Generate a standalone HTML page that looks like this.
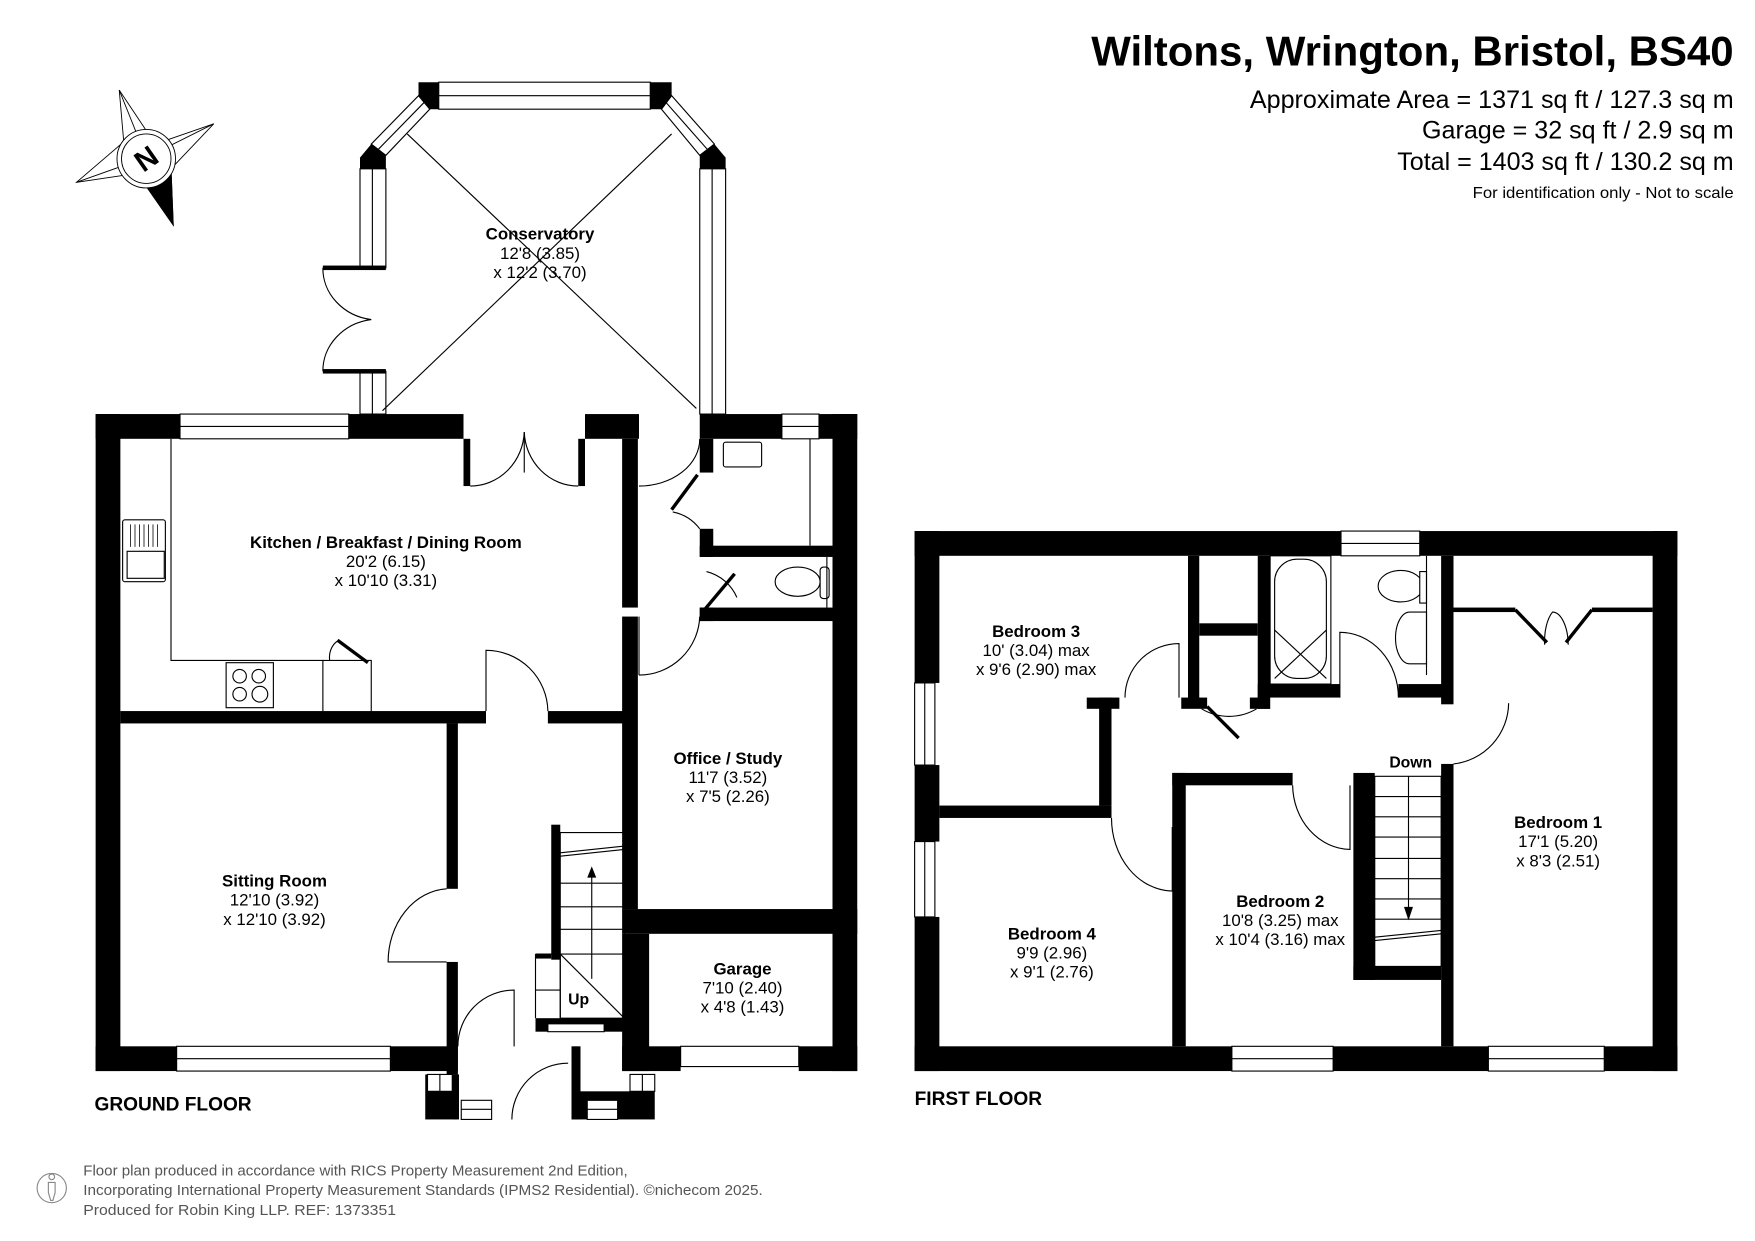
<!DOCTYPE html>
<html><head><meta charset="utf-8"><style>
html,body{margin:0;padding:0;background:#fff;}
svg{display:block}
text{font-family:"Liberation Sans",Arial,sans-serif;fill:#000}
.b{font-weight:bold}
</style></head><body>
<svg width="1755" height="1241" viewBox="0 0 1560 1103" xmlns="http://www.w3.org/2000/svg">
<rect width="1560" height="1103" fill="#fff"/>

<!-- Title -->
<text x="1541" y="58" font-size="37" class="b" text-anchor="end" textLength="571" lengthAdjust="spacingAndGlyphs">Wiltons, Wrington, Bristol, BS40</text>
<text x="1541" y="96" font-size="22" text-anchor="end" textLength="430" lengthAdjust="spacingAndGlyphs">Approximate Area = 1371 sq ft / 127.3 sq m</text>
<text x="1541" y="123" font-size="22" text-anchor="end" textLength="277" lengthAdjust="spacingAndGlyphs">Garage = 32 sq ft / 2.9 sq m</text>
<text x="1541" y="151" font-size="22" text-anchor="end" textLength="299" lengthAdjust="spacingAndGlyphs">Total = 1403 sq ft / 130.2 sq m</text>
<text x="1541" y="176" font-size="14" text-anchor="end" textLength="232" lengthAdjust="spacingAndGlyphs">For identification only - Not to scale</text>

<!-- Compass -->
<g stroke="#000" stroke-width="0.8" fill="#fff">
<polygon points="106,80 138,128 190,110 152,150 154,200 122,154 68,162 110,126"/>
<line x1="106" y1="80" x2="130" y2="140"/><line x1="190" y1="110" x2="130" y2="140"/><line x1="68" y1="162" x2="130" y2="140"/>
<polygon points="130,140 152,150 154,200 122,154" fill="#000"/>
<ellipse cx="130" cy="141" rx="26" ry="26" /><ellipse cx="130" cy="141" rx="22" ry="22"/>
</g>
<text x="130" y="150" font-size="26" class="b" text-anchor="middle" transform="rotate(-35 130 141)">N</text>

<!-- ===== CONSERVATORY ===== -->
<g fill="#000">
<polygon points="372,73 390,73 390,97 382,97 372,85"/>
<polygon points="578,73 597,73 597,85 588,97 578,97"/>
<polygon points="330,128 320,140 320,150 343,150 343,138"/>
<polygon points="635,128 645,140 645,150 622,150 622,138"/>
</g>
<g stroke="#000" stroke-width="1" fill="#fff">
<rect x="390" y="73" width="188" height="24"/><line x1="390" y1="85" x2="578" y2="85"/>
<polygon points="372,85 382,97 343,138 330,128"/><line x1="377" y1="91" x2="336" y2="133"/>
<polygon points="597,85 588,97 622,138 635,128"/><line x1="592" y1="91" x2="629" y2="133"/>
<rect x="320" y="150" width="23" height="88"/><line x1="331" y1="150" x2="331" y2="238"/>
<rect x="320" y="330" width="23" height="38"/><line x1="331" y1="330" x2="331" y2="368"/>
<rect x="622" y="150" width="23" height="218"/><line x1="633" y1="150" x2="633" y2="368"/>
<path d="M287,238 A50,46 0 0 0 330,284 A50,46 0 0 0 287,330" fill="none"/>
<line x1="362" y1="119" x2="619" y2="363"/><line x1="597" y1="119" x2="340" y2="365"/>
</g>
<rect x="287" y="236" width="56" height="4" fill="#000"/>
<rect x="287" y="328" width="56" height="4" fill="#000"/>
<text x="480" y="213" font-size="15" class="b" text-anchor="middle">Conservatory</text>
<text x="480" y="230" font-size="15" text-anchor="middle">12'8 (3.85)</text>
<text x="480" y="247" font-size="15" text-anchor="middle">x 12'2 (3.70)</text>

<!-- ===== GROUND FLOOR ===== -->
<g fill="#000">
<rect x="85" y="368" width="22" height="584"/>
<rect x="85" y="368" width="75" height="22"/>
<rect x="310" y="368" width="102" height="22"/>
<rect x="412" y="390" width="6" height="42"/>
<rect x="514" y="390" width="6" height="42"/>
<rect x="520" y="368" width="48" height="22"/>
<rect x="622" y="368" width="73" height="22"/>
<rect x="728" y="368" width="34" height="22"/>
<rect x="740" y="368" width="22" height="584"/>
<rect x="553" y="390" width="14" height="150"/>
<rect x="553" y="548" width="14" height="260"/>
<rect x="622" y="390" width="12" height="30"/>
<rect x="622" y="470" width="12" height="25"/>
<rect x="622" y="485" width="118" height="10"/>
<rect x="622" y="540" width="12" height="12"/>
<rect x="622" y="540" width="118" height="12"/>
<rect x="107" y="632" width="325" height="11"/>
<rect x="487" y="632" width="68" height="11"/>
<rect x="397" y="643" width="10" height="147"/>
<rect x="397" y="855" width="10" height="100"/>
<rect x="85" y="930" width="72" height="22"/>
<rect x="347" y="930" width="60" height="22"/>
<rect x="553" y="808" width="209" height="22"/>
<rect x="553" y="830" width="24" height="122"/>
<rect x="553" y="930" width="52" height="22"/>
<rect x="710" y="930" width="52" height="22"/>
<rect x="476" y="905" width="79" height="12"/>
<rect x="490" y="733" width="8" height="120"/>
<rect x="476" y="848" width="14" height="4"/>
<rect x="378" y="955" width="28" height="40"/>
<rect x="403" y="955" width="5" height="40"/>
<rect x="508" y="930" width="8" height="65"/>
<rect x="508" y="970" width="74" height="25"/>
<rect x="560" y="955" width="22" height="15"/>
</g>
<g stroke="#000" stroke-width="1" fill="#fff">
<rect x="160" y="368" width="150" height="22"/><line x1="160" y1="379" x2="310" y2="379"/>
<rect x="695" y="368" width="33" height="22"/><line x1="695" y1="379" x2="728" y2="379"/>
<rect x="157" y="930" width="190" height="22"/><line x1="157" y1="941" x2="347" y2="941"/>
<rect x="605" y="930" width="105" height="18"/>
<rect x="410" y="978" width="27" height="17"/><line x1="410" y1="986" x2="437" y2="986"/>
<rect x="522" y="978" width="27" height="17"/><line x1="522" y1="986" x2="549" y2="986"/>
<rect x="380" y="955" width="22" height="15"/><line x1="391" y1="955" x2="391" y2="970"/>
<rect x="560" y="955" width="22" height="15"/><line x1="571" y1="955" x2="571" y2="970"/>
<rect x="487" y="910" width="50" height="7"/>
<path d="M418,432 A48,50 0 0 0 466,384 M514,432 A48,50 0 0 1 466,384" fill="none"/>
<line x1="466" y1="384" x2="466" y2="420"/>
<polyline points="152,390 152,587 287,587 287,632" fill="none"/>
<polyline points="287,587 330,587 330,632" fill="none"/>
<rect x="109" y="462" width="38" height="55" rx="2"/>
<rect x="113" y="490" width="33" height="24"/>
<g stroke-width="0.7"><line x1="116" y1="466" x2="116" y2="486"/><line x1="120" y1="466" x2="120" y2="486"/><line x1="124" y1="466" x2="124" y2="486"/><line x1="128" y1="466" x2="128" y2="486"/><line x1="132" y1="466" x2="132" y2="486"/><line x1="136" y1="466" x2="136" y2="486"/><line x1="140" y1="466" x2="140" y2="486"/></g>
<rect x="201" y="589" width="42" height="40"/>
<circle cx="213" cy="601" r="6" fill="none"/><circle cx="230" cy="601" r="6" fill="none"/>
<circle cx="213" cy="617" r="6" fill="none"/><circle cx="231" cy="617" r="7" fill="none"/>
<path d="M293,587 A12,16 0 0 1 302,569" fill="none"/>
<path d="M432,632 L432,578 A55,55 0 0 1 487,632" fill="none"/>
<path d="M568,432 A54,42 0 0 0 622,390" fill="none"/>
<path d="M568,600 L568,548 M568,600 A54,54 0 0 0 622,548" fill="none"/>
<path d="M397,790 A55,65 0 0 0 345,855 L397,855" fill="none"/>
<path d="M407,930 A50,50 0 0 1 457,880 L457,930" fill="none"/>
<path d="M455,995 A50,50 0 0 1 505,945" fill="none"/>
<path d="M598,455 A40,40 0 0 1 622,470 M628,508 A40,40 0 0 1 655,531" fill="none"/>
<rect x="498" y="740" width="57" height="165" fill="none"/>
<line x1="498" y1="758" x2="555" y2="752"/><line x1="498" y1="761" x2="555" y2="755"/>
<line x1="498" y1="785" x2="555" y2="785"/><line x1="498" y1="806" x2="555" y2="806"/>
<line x1="498" y1="826" x2="555" y2="826"/><line x1="476" y1="848" x2="555" y2="848"/>
<line x1="476" y1="880" x2="498" y2="880"/><line x1="476" y1="848" x2="476" y2="905"/>
<line x1="498" y1="848" x2="498" y2="905"/><line x1="498" y1="848" x2="555" y2="905"/>
<line x1="526" y1="870" x2="526" y2="775"/>
<rect x="643" y="393" width="34" height="22" rx="2"/>
<line x1="720" y1="390" x2="720" y2="485"/>
<ellipse cx="709" cy="517" rx="20" ry="13"/>
<rect x="729" y="504" width="8" height="28" rx="3"/>
<line x1="735" y1="495" x2="735" y2="540"/>
</g>
<polygon points="526,770 522,780 530,780" fill="#000"/>
<g stroke="#000" stroke-width="3">
<line x1="620" y1="422" x2="597" y2="453"/>
<line x1="627" y1="541" x2="653" y2="510"/>
<line x1="300" y1="569" x2="327" y2="589"/>
</g>
<text x="505" y="893" font-size="14" class="b">Up</text>

<text x="343" y="487" font-size="15" class="b" text-anchor="middle">Kitchen / Breakfast / Dining Room</text>
<text x="343" y="504" font-size="15" text-anchor="middle">20'2 (6.15)</text>
<text x="343" y="521" font-size="15" text-anchor="middle">x 10'10 (3.31)</text>
<text x="244" y="788" font-size="15" class="b" text-anchor="middle">Sitting Room</text>
<text x="244" y="805" font-size="15" text-anchor="middle">12'10 (3.92)</text>
<text x="244" y="822" font-size="15" text-anchor="middle">x 12'10 (3.92)</text>
<text x="647" y="679" font-size="15" class="b" text-anchor="middle">Office / Study</text>
<text x="647" y="696" font-size="15" text-anchor="middle">11'7 (3.52)</text>
<text x="647" y="713" font-size="15" text-anchor="middle">x 7'5 (2.26)</text>
<text x="660" y="866" font-size="15" class="b" text-anchor="middle">Garage</text>
<text x="660" y="883" font-size="15" text-anchor="middle">7'10 (2.40)</text>
<text x="660" y="900" font-size="15" text-anchor="middle">x 4'8 (1.43)</text>
<text x="84" y="987" font-size="17" class="b">GROUND FLOOR</text>

<!-- ===== FIRST FLOOR ===== -->
<g fill="#000">
<rect x="813" y="472" width="379" height="22"/>
<rect x="1262" y="472" width="229" height="22"/>
<rect x="813" y="472" width="22" height="135"/>
<rect x="813" y="680" width="22" height="68"/>
<rect x="813" y="815" width="22" height="137"/>
<rect x="1469" y="472" width="22" height="480"/>
<rect x="813" y="930" width="282" height="22"/>
<rect x="1185" y="930" width="138" height="22"/>
<rect x="1426" y="930" width="65" height="22"/>
<rect x="1056" y="494" width="10" height="135"/>
<rect x="966" y="620" width="29" height="10"/>
<rect x="977" y="620" width="11" height="96"/>
<rect x="835" y="716" width="153" height="11"/>
<rect x="1066" y="554" width="52" height="11"/>
<rect x="1050" y="620" width="23" height="10"/>
<rect x="1111" y="620" width="18" height="10"/>
<rect x="1118" y="494" width="11" height="136"/>
<rect x="1118" y="608" width="73" height="12"/>
<rect x="1243" y="608" width="49" height="12"/>
<rect x="1281" y="494" width="11" height="132"/>
<rect x="1281" y="679" width="11" height="251"/>
<rect x="1292" y="540" width="55" height="4"/>
<rect x="1415" y="540" width="54" height="4"/>
<rect x="1042" y="687" width="107" height="11"/>
<rect x="1042" y="687" width="12" height="243"/>
<rect x="1203" y="687" width="19" height="184"/>
<rect x="1203" y="859" width="78" height="12"/>
</g>
<g stroke="#000" stroke-width="1" fill="#fff">
<rect x="1192" y="472" width="70" height="22"/><line x1="1192" y1="483" x2="1262" y2="483"/>
<rect x="813" y="607" width="18" height="73"/><line x1="822" y1="607" x2="822" y2="680"/>
<rect x="813" y="748" width="18" height="67"/><line x1="822" y1="748" x2="822" y2="815"/>
<rect x="1095" y="930" width="90" height="22"/><line x1="1095" y1="941" x2="1185" y2="941"/>
<rect x="1323" y="930" width="103" height="22"/><line x1="1323" y1="941" x2="1426" y2="941"/>
<rect x="1129" y="494" width="54" height="114"/>
<rect x="1133" y="497" width="46" height="106" rx="20"/>
<line x1="1133" y1="560" x2="1179" y2="603"/><line x1="1179" y1="560" x2="1133" y2="603"/>
<ellipse cx="1245" cy="521" rx="20" ry="14"/>
<rect x="1262" y="508" width="6" height="28"/>
<path d="M1268,544 L1253,544 A12,22 0 0 0 1253,590 L1268,590 Z"/>
<line x1="1268" y1="494" x2="1268" y2="600"/>
<path d="M1000,620 A48,48 0 0 1 1048,572 L1048,620" fill="none"/>
<path d="M1068,630 A48,48 0 0 0 1117,630" fill="none"/>
<path d="M1191,620 L1191,562 A52,58 0 0 1 1243,620" fill="none"/>
<path d="M1341,625 A55,55 0 0 1 1292,679" fill="none"/>
<path d="M988,727 A55,65 0 0 0 1042,792 L1042,735" fill="none"/>
<path d="M1149,698 A52,58 0 0 0 1200,755 L1200,698" fill="none"/>
<path d="M1373,573 A14,30 0 0 1 1380,544 A14,30 0 0 1 1394,573" fill="none"/>
<rect x="1222" y="690" width="59" height="169" fill="none"/>
<line x1="1222" y1="708" x2="1281" y2="708"/><line x1="1222" y1="726" x2="1281" y2="726"/>
<line x1="1222" y1="744" x2="1281" y2="744"/><line x1="1222" y1="763" x2="1281" y2="763"/>
<line x1="1222" y1="781" x2="1281" y2="781"/><line x1="1222" y1="799" x2="1281" y2="799"/>
<line x1="1222" y1="817" x2="1281" y2="817"/>
<line x1="1222" y1="833" x2="1281" y2="827"/><line x1="1222" y1="836" x2="1281" y2="830"/>
<line x1="1252" y1="690" x2="1252" y2="808"/>
</g>
<polygon points="1252,818 1248,806 1256,806" fill="#000"/>
<g stroke="#000" stroke-width="3">
<line x1="1073" y1="628" x2="1101" y2="656"/>
<line x1="1347" y1="542" x2="1375" y2="571"/>
<line x1="1415" y1="542" x2="1392" y2="571"/>
</g>
<text x="1254" y="682" font-size="14" class="b" text-anchor="middle">Down</text>
<text x="921" y="566" font-size="15" class="b" text-anchor="middle">Bedroom 3</text>
<text x="921" y="583" font-size="15" text-anchor="middle">10' (3.04) max</text>
<text x="921" y="600" font-size="15" text-anchor="middle">x 9'6 (2.90) max</text>
<text x="935" y="835" font-size="15" class="b" text-anchor="middle">Bedroom 4</text>
<text x="935" y="852" font-size="15" text-anchor="middle">9'9 (2.96)</text>
<text x="935" y="869" font-size="15" text-anchor="middle">x 9'1 (2.76)</text>
<text x="1138" y="806" font-size="15" class="b" text-anchor="middle">Bedroom 2</text>
<text x="1138" y="823" font-size="15" text-anchor="middle">10'8 (3.25) max</text>
<text x="1138" y="840" font-size="15" text-anchor="middle">x 10'4 (3.16) max</text>
<text x="1385" y="736" font-size="15" class="b" text-anchor="middle">Bedroom 1</text>
<text x="1385" y="753" font-size="15" text-anchor="middle">17'1 (5.20)</text>
<text x="1385" y="770" font-size="15" text-anchor="middle">x 8'3 (2.51)</text>
<text x="813" y="982" font-size="17" class="b">FIRST FLOOR</text>

<!-- Footer -->
<g stroke="#888" fill="none" stroke-width="1">
<circle cx="46" cy="1056" r="13"/>
<circle cx="46" cy="1046" r="2.5"/>
<path d="M43,1051 L49,1051 L49,1060 L47,1067 L45,1067 L43,1060 Z"/>
</g>
<text x="74" y="1045" font-size="13" style="fill:#555" textLength="484" lengthAdjust="spacingAndGlyphs">Floor plan produced in accordance with RICS Property Measurement 2nd Edition,</text>
<text x="74" y="1062" font-size="13" style="fill:#555" textLength="604" lengthAdjust="spacingAndGlyphs">Incorporating International Property Measurement Standards (IPMS2 Residential).   ©nichecom 2025.</text>
<text x="74" y="1080" font-size="13" style="fill:#555" textLength="278" lengthAdjust="spacingAndGlyphs">Produced for Robin King LLP.   REF:  1373351</text>
</svg>
</body></html>
